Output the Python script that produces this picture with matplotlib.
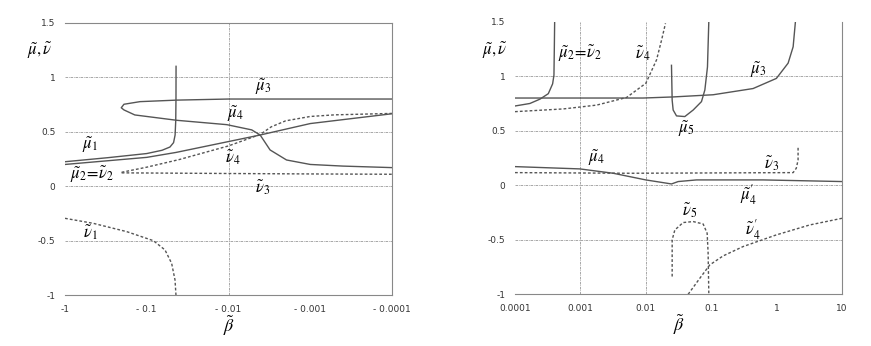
import matplotlib
matplotlib.use("Agg")
import matplotlib.pyplot as plt
import numpy as np

plt.rcParams["mathtext.fontset"] = "stix"

# ---------------- left panel (beta < 0) ----------------
mu1_b = [-1, -0.3, -0.1, -0.065, -0.052, -0.047, -0.045, -0.0442, -0.0439, -0.0438]
mu1_v = [0.225, 0.262, 0.30, 0.33, 0.36, 0.40, 0.47, 0.60, 0.80, 1.10]

mu2_b = [-1, -0.1, -0.044, -0.01, -0.0041, -0.001, -0.0001]
mu2_v = [0.20, 0.265, 0.31, 0.41, 0.47, 0.575, 0.665]

# mu3 (upper branch) and mu4 (lower branch) join at the nose
mu34_b = [-0.0001, -0.001, -0.01, -0.043, -0.121, -0.19, -0.205,
          -0.19, -0.14, -0.043, -0.0105, -0.0052, -0.0041, -0.0031,
          -0.00195, -0.001, -0.0004, -0.0001]
mu34_v = [0.80, 0.80, 0.80, 0.79, 0.776, 0.752, 0.72,
          0.70, 0.654, 0.605, 0.565, 0.517, 0.47, 0.333,
          0.241, 0.20, 0.185, 0.171]

nu4_b = [-0.203, -0.1, -0.04, -0.01, -0.0041, -0.003, -0.002, -0.001, -0.0005, -0.0001]
nu4_v = [0.128, 0.175, 0.245, 0.37, 0.475, 0.545, 0.60, 0.64, 0.655, 0.668]

nu3_b = [-0.203, -0.01, -0.001, -0.0001]
nu3_v = [0.123, 0.117, 0.113, 0.11]

nu1_b = [-1, -0.451, -0.176, -0.083, -0.0598, -0.0496, -0.0451, -0.0439]
nu1_v = [-0.294, -0.34, -0.416, -0.499, -0.584, -0.707, -0.86, -1.0]

# ---------------- right panel (beta > 0) ----------------
rmu2_b = [1e-4, 1.69e-4, 2.41e-4, 3.23e-4, 3.76e-4, 3.94e-4, 3.99e-4, 4.04e-4]
rmu2_v = [0.727, 0.75, 0.79, 0.84, 0.93, 1.01, 1.24, 1.5]

rmu3_b = [1e-4, 9.1e-3, 0.0262, 0.107, 0.437, 0.993, 1.50, 1.79, 1.94]
rmu3_v = [0.80, 0.80, 0.81, 0.83, 0.887, 0.98, 1.12, 1.27, 1.5]

rnu4_b = [1e-4, 5.47e-4, 1.77e-3, 5.08e-3, 0.01, 0.0146, 0.0174, 0.020]
rnu4_v = [0.675, 0.70, 0.735, 0.805, 0.935, 1.15, 1.33, 1.485]

rmu5_b = [0.0247, 0.0253, 0.0262, 0.0295, 0.0395, 0.053, 0.071, 0.080, 0.0877, 0.0919]
rmu5_v = [1.10, 0.78, 0.69, 0.636, 0.63, 0.69, 0.767, 0.874, 1.085, 1.5]

rmu4_b = [1e-4, 9.8e-4, 3.18e-3, 0.01, 0.0247, 0.0313, 0.0596, 0.621, 10]
rmu4_v = [0.171, 0.15, 0.11, 0.049, 0.012, 0.034, 0.049, 0.049, 0.034]

rnu3_b = [1e-4, 5.71e-3, 1.79, 2.0, 2.13, 2.13]
rnu3_v = [0.116, 0.11, 0.116, 0.156, 0.232, 0.354]

rnu5_b = [0.0253, 0.0253, 0.0278, 0.0372, 0.053, 0.0753, 0.0867, 0.0897, 0.0919]
rnu5_v = [-0.837, -0.50, -0.41, -0.342, -0.333, -0.355, -0.44, -0.62, -0.99]

rnu4p_b = [0.0444, 0.067, 0.0953, 0.152, 0.308, 0.993, 3.21, 10]
rnu4p_v = [-1.0, -0.853, -0.73, -0.648, -0.562, -0.455, -0.364, -0.303]

y_ticks = [-1, -0.5, 0, 0.5, 1, 1.5]
y_labels = ["-1", "-0.5", "0", "0.5", "1", "1.5"]
left_xticks = [1, 0.1, 0.01, 0.001, 0.0001]
left_xlabels = ["-1", "- 0.1", "- 0.01", "- 0.001", "- 0.0001"]
right_xticks = [0.0001, 0.001, 0.01, 0.1, 1, 10]
right_xlabels = ["0.0001", "0.001", "0.01", "0.1", "1", "10"]

line_c = "#555555"
grid_c = "#999999"
solid = dict(color=line_c, lw=1.0)
dotted = dict(color=line_c, lw=1.0, ls=(0, (2, 1.5)))
grid_ls = dict(color=grid_c, lw=0.6, ls=(0, (3, 1, 1, 1)))
lab = dict(fontsize=12, ha="center", va="center")

fig = plt.figure(figsize=(8.71, 3.46), dpi=100)
axL = fig.add_axes([65 / 871, 50.7 / 346, 327 / 871, 272.6 / 346])
axR = fig.add_axes([515 / 871, 51.7 / 346, 327 / 871, 272.6 / 346])


def style(ax, xticks, xlabels, xlim, top):
    ax.set_xscale("log")
    ax.set_xlim(*xlim)
    ax.set_ylim(-1, 1.5)
    ax.set_xticks(xticks)
    ax.set_xticklabels(xlabels)
    ax.minorticks_off()
    ax.set_yticks(y_ticks)
    ax.set_yticklabels(y_labels)
    ax.tick_params(length=0, labelsize=6.5, labelcolor="#333333")
    ax.tick_params(axis="y", pad=7)
    ax.tick_params(axis="x", pad=7)
    for y in [-0.5, 0, 0.5, 1]:
        ax.axhline(y, **grid_ls, zorder=0)
    ax.spines["left"].set_visible(False)
    ax.spines["top"].set_visible(top)
    for s in ["top", "right", "bottom"]:
        ax.spines[s].set_color("#888888")
        ax.spines[s].set_linewidth(0.8)
    ax.set_xlabel(r"$\tilde{\beta}$", fontsize=13, labelpad=0)


# left panel
style(axL, left_xticks, left_xlabels, (1, 1e-4), True)
axL.axvline(0.01, **grid_ls, zorder=0)
neg = lambda b: -np.array(b)
axL.plot(neg(mu1_b), mu1_v, **solid)
axL.plot(neg(mu2_b), mu2_v, **solid)
axL.plot(neg(mu34_b), mu34_v, **solid)
axL.plot(neg(nu4_b), nu4_v, **dotted)
axL.plot(neg(nu3_b), nu3_v, **dotted)
axL.plot(neg(nu1_b), nu1_v, **dotted)

axL.text(3.8e-3, 0.91, r"$\tilde{\mu}_3$", **lab)
axL.text(8.3e-3, 0.66, r"$\tilde{\mu}_4$", **lab)
axL.text(0.494, 0.38, r"$\tilde{\mu}_1$", **lab)
axL.text(0.47, 0.11, r"$\tilde{\mu}_2\!=\!\tilde{\nu}_2$", **lab)
axL.text(8.8e-3, 0.27, r"$\tilde{\nu}_4$", **lab)
axL.text(3.8e-3, -0.01, r"$\tilde{\nu}_3$", **lab)
axL.text(0.494, -0.42, r"$\tilde{\nu}_1$", **lab)
fig.text(40 / 871, 1 - 50 / 346, r"$\tilde{\mu},\tilde{\nu}$", fontsize=12,
         ha="center", va="center")

# right panel
style(axR, right_xticks, right_xlabels, (1e-4, 10), False)
axR.axvline(0.001, **grid_ls, zorder=0)
axR.axvline(0.01, **grid_ls, zorder=0)
axR.plot(rmu2_b, rmu2_v, **solid)
axR.plot(rmu3_b, rmu3_v, **solid)
axR.plot(rnu4_b, rnu4_v, **dotted)
axR.plot(rmu5_b, rmu5_v, **solid)
axR.plot(rmu4_b, rmu4_v, **solid)
axR.plot(rnu3_b, rnu3_v, **dotted)
axR.plot(rnu5_b, rnu5_v, **dotted)
axR.plot(rnu4p_b, rnu4p_v, **dotted)

axR.text(9.8e-4, 1.21, r"$\tilde{\mu}_2\!=\!\tilde{\nu}_2$", **lab)
axR.text(9.1e-3, 1.21, r"$\tilde{\nu}_4$", **lab)
axR.text(0.52, 1.057, r"$\tilde{\mu}_3$", **lab)
axR.text(0.0419, 0.52, r"$\tilde{\mu}_5$", **lab)
axR.text(1.77e-3, 0.25, r"$\tilde{\mu}_4$", **lab)
axR.text(0.83, 0.20, r"$\tilde{\nu}_3$", **lab)
axR.text(0.366, -0.09, r"$\tilde{\mu}_{4}^{\prime}$", **lab)
axR.text(0.047, -0.226, r"$\tilde{\nu}_5$", **lab)
axR.text(0.437, -0.41, r"$\tilde{\nu}_{4}^{\prime}$", **lab)
fig.text(495 / 871, 1 - 50 / 346, r"$\tilde{\mu},\tilde{\nu}$", fontsize=12,
         ha="center", va="center")

fig.savefig("out.png", dpi=100)
